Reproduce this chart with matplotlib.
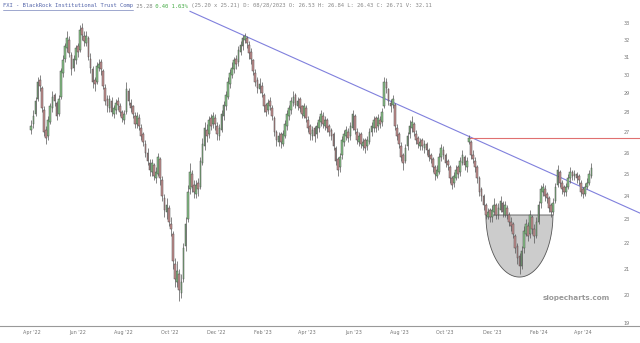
import matplotlib.pyplot as plt
import matplotlib.dates as mdates
from matplotlib.ticker import NullLocator
from matplotlib.lines import Line2D
from matplotlib.patches import Polygon
import numpy as np
import pandas as pd

# candles, one per two trading days
closes = [
    27.3, 27.8, 28.6, 29.6, 29.4, 28.2, 27.0, 26.7, 27.6, 28.3,
    28.8, 28.6, 27.8, 28.7, 30.2, 30.8, 31.6, 32.1, 31.2, 30.3,
    30.9, 31.5, 31.3, 32.6, 32.3, 31.9, 32.2, 31.0, 30.4, 29.6,
    29.5, 30.5, 30.6, 30.3, 29.4, 28.6, 28.3, 28.7, 28.0, 28.2,
    28.5, 28.4, 28.0, 27.7, 27.9, 29.2, 28.6, 28.2, 27.9, 27.4,
    27.8, 27.3, 26.8, 26.5, 26.0, 25.6, 25.2, 25.5, 24.9, 25.1,
    25.8, 24.8, 24.0, 23.4, 23.6, 22.9, 22.6, 21.3, 20.6, 20.9,
    20.2, 20.5, 21.8, 22.8, 24.2, 25.1, 24.4, 24.2, 24.5, 24.3,
    25.6, 26.4, 27.2, 26.8, 27.6, 27.3, 27.8, 27.4, 26.9, 27.2,
    27.9, 28.4, 28.9, 29.6, 30.1, 30.4, 30.8, 30.6, 31.4, 31.7,
    32.1, 32.2, 31.8, 31.2, 30.9, 30.2, 29.6, 29.3, 29.5, 29.0,
    28.3, 28.0, 28.5, 28.3, 27.8, 27.0, 26.6, 26.8, 26.5, 26.9,
    27.4, 27.9, 28.2, 28.6, 28.8, 28.4, 28.6, 28.2, 27.9, 28.3,
    27.7, 27.2, 26.9, 27.1, 26.8, 27.3, 27.6, 27.9, 27.4, 27.6,
    27.2, 27.0, 26.8, 26.3, 25.6, 25.2, 25.8, 26.6, 26.9, 27.1,
    26.7, 27.3, 27.9, 27.1, 26.6, 26.8, 26.4, 26.5, 26.2, 26.6,
    27.0, 27.3, 27.6, 27.2, 27.7, 27.4, 28.0, 29.6, 29.3, 28.6,
    28.3, 28.7, 27.3, 26.8, 26.4, 25.8, 25.5, 26.2, 26.8, 27.3,
    27.5, 27.0, 26.6, 26.4, 26.5, 26.3, 26.4, 26.1, 25.8, 25.7,
    25.3, 25.0, 25.2, 25.8, 26.2, 25.9, 25.5, 25.4, 24.8, 24.5,
    24.9, 25.2, 25.0, 25.6, 25.9, 25.4, 25.6, 26.71, 25.9, 25.7,
    25.3, 24.8, 24.2, 24.0, 23.6, 23.2, 23.3, 23.1, 23.4, 23.6,
    23.2, 23.5, 23.8, 23.3, 23.6, 23.2, 22.9, 22.7, 22.4, 21.8,
    21.4, 21.1, 21.7, 22.5, 22.8, 22.3, 23.2, 22.6, 22.3, 22.9,
    23.6, 24.3, 24.4, 24.0, 23.9, 23.5, 23.3, 23.7, 24.4, 25.2,
    24.6, 24.3, 24.2, 24.4, 24.8, 25.1, 24.9, 25.0, 24.8, 24.7,
    24.2, 24.1, 24.4, 24.6, 25.0, 25.28,
]
opens = [
    27.1, 27.4, 27.9, 28.7, 29.7, 29.3, 28.1, 27.1, 26.8, 27.5,
    28.2, 28.9, 28.5, 27.9, 28.8, 30.1, 30.9, 31.5, 32.0, 31.1,
    30.4, 30.8, 31.6, 31.4, 32.7, 32.2, 31.8, 32.1, 30.9, 30.3,
    29.7, 29.6, 30.4, 30.7, 30.2, 29.3, 28.7, 28.2, 28.6, 27.9,
    28.1, 28.6, 28.3, 28.0, 27.6, 28.0, 29.1, 28.5, 28.3, 27.8,
    27.4, 27.7, 27.2, 26.9, 26.4, 26.0, 25.5, 25.1, 25.4, 24.8,
    25.0, 25.7, 24.7, 23.9, 23.3, 23.5, 22.8, 22.4, 21.2, 20.5,
    20.8, 20.1, 20.6, 21.9, 23.0, 24.3, 25.0, 24.5, 24.1, 24.6,
    24.4, 25.5, 26.3, 27.1, 26.9, 27.7, 27.4, 27.7, 27.3, 26.8,
    27.1, 27.8, 28.3, 28.8, 29.5, 30.0, 30.3, 30.9, 30.7, 31.3,
    31.6, 32.0, 32.1, 31.7, 31.3, 30.8, 30.1, 29.7, 29.2, 29.4,
    28.9, 28.4, 28.1, 28.6, 28.2, 27.7, 27.0, 26.5, 26.9, 26.4,
    26.8, 27.3, 27.8, 28.1, 28.5, 28.9, 28.3, 28.7, 28.3, 27.8,
    28.2, 27.6, 27.3, 26.8, 27.2, 26.9, 27.2, 27.5, 27.8, 27.3,
    27.6, 27.3, 27.1, 26.9, 26.2, 25.7, 25.3, 25.9, 26.5, 26.8,
    27.0, 26.8, 27.2, 27.8, 27.0, 26.5, 26.9, 26.3, 26.6, 26.3,
    26.5, 27.0, 27.2, 27.7, 27.3, 27.6, 27.5, 28.3, 29.6, 29.2,
    28.5, 28.4, 28.4, 27.2, 26.9, 26.3, 25.9, 25.6, 26.3, 26.9,
    27.2, 27.4, 26.9, 26.7, 26.3, 26.6, 26.2, 26.4, 26.1, 25.9,
    25.7, 25.3, 24.9, 25.1, 25.8, 26.1, 25.9, 25.6, 25.3, 24.8,
    24.6, 24.8, 25.3, 25.1, 25.5, 25.8, 25.3, 26.53, 26.5, 25.9,
    25.6, 25.3, 24.8, 24.3, 24.0, 23.6, 23.1, 23.4, 23.1, 23.3,
    23.6, 23.2, 23.4, 23.7, 23.2, 23.5, 23.2, 22.9, 22.8, 22.3,
    21.9, 21.5, 21.1, 21.8, 22.4, 22.7, 22.4, 23.1, 22.6, 22.3,
    22.9, 23.7, 24.2, 24.3, 24.1, 23.9, 23.6, 23.3, 23.8, 24.5,
    25.1, 24.6, 24.4, 24.2, 24.4, 24.8, 25.1, 24.9, 25.0, 24.9,
    24.6, 24.3, 24.1, 24.4, 24.6, 24.9,
]
highs = [
    27.6, 28.1, 28.8, 29.9, 30.0, 29.4, 28.3, 27.3, 27.8, 28.5,
    29.1, 29.0, 28.6, 28.9, 30.4, 31.1, 31.8, 32.5, 32.2, 31.3,
    31.1, 31.7, 31.8, 32.9, 33.0, 32.5, 32.5, 32.2, 31.2, 30.5,
    29.9, 30.7, 30.9, 30.9, 30.3, 29.5, 28.9, 28.9, 28.8, 28.4,
    28.7, 28.8, 28.5, 28.1, 28.1, 29.6, 29.3, 28.7, 28.4, 28.0,
    28.0, 27.9, 27.4, 27.0, 26.6, 26.2, 25.7, 25.7, 25.5, 25.3,
    26.0, 25.8, 24.9, 24.1, 23.9, 23.6, 23.1, 22.5, 21.4, 21.3,
    21.0, 20.8, 22.0, 23.1, 24.5, 25.5, 25.2, 24.7, 24.7, 24.8,
    25.8, 26.7, 27.5, 27.4, 27.8, 27.9, 28.0, 27.9, 27.5, 27.4,
    28.1, 28.6, 29.1, 29.9, 30.3, 30.7, 31.0, 31.1, 31.6, 31.9,
    32.3, 32.4, 32.2, 31.9, 31.5, 30.9, 30.3, 29.9, 29.8, 29.6,
    29.0, 28.5, 28.7, 28.8, 28.4, 27.8, 27.1, 27.0, 27.0, 27.1,
    27.6, 28.1, 28.4, 28.8, 29.1, 29.0, 28.8, 28.8, 28.4, 28.5,
    28.4, 27.8, 27.4, 27.3, 27.3, 27.5, 27.8, 28.1, 28.0, 27.8,
    27.7, 27.4, 27.2, 27.0, 26.3, 25.8, 26.0, 26.8, 27.1, 27.3,
    27.2, 27.5, 28.1, 27.9, 27.2, 27.0, 27.0, 26.7, 26.7, 26.8,
    27.2, 27.5, 27.8, 27.8, 27.9, 27.8, 28.2, 29.9, 29.8, 29.3,
    28.7, 28.9, 28.5, 27.4, 27.0, 26.5, 26.0, 26.4, 27.0, 27.6,
    27.8, 27.5, 27.1, 26.8, 26.7, 26.7, 26.6, 26.5, 26.2, 26.0,
    25.8, 25.4, 25.4, 26.0, 26.4, 26.3, 26.0, 25.7, 25.4, 24.9,
    25.1, 25.4, 25.4, 25.8, 26.1, 25.9, 25.8, 26.84, 26.6, 26.1,
    25.8, 25.4, 24.9, 24.4, 24.1, 23.7, 23.5, 23.5, 23.6, 23.9,
    23.7, 23.7, 24.0, 23.8, 23.8, 23.6, 23.3, 23.1, 22.9, 22.4,
    22.0, 21.6, 21.9, 22.7, 23.0, 22.9, 23.4, 23.2, 22.8, 23.1,
    23.8, 24.5, 24.6, 24.5, 24.2, 24.0, 23.7, 23.9, 24.6, 25.4,
    25.2, 24.7, 24.5, 24.6, 25.0, 25.3, 25.2, 25.2, 25.1, 25.0,
    24.7, 24.4, 24.6, 24.8, 25.2, 25.5,
]
lows = [
    26.9, 27.2, 27.8, 28.6, 29.1, 28.0, 26.8, 26.4, 26.6, 27.4,
    28.0, 28.3, 27.6, 27.8, 28.7, 29.9, 30.7, 31.3, 31.0, 30.0,
    30.2, 30.6, 31.0, 31.3, 32.0, 31.6, 31.6, 30.8, 30.1, 29.3,
    29.1, 29.5, 30.2, 30.0, 29.2, 28.4, 28.0, 28.0, 27.8, 27.7,
    27.9, 28.1, 27.8, 27.5, 27.4, 27.9, 28.4, 28.0, 27.7, 27.2,
    27.2, 27.1, 26.6, 26.3, 25.8, 25.4, 24.9, 24.9, 24.7, 24.6,
    24.9, 24.5, 23.8, 23.1, 23.0, 22.7, 22.3, 21.0, 20.3, 20.3,
    19.8, 19.9, 20.5, 21.7, 22.9, 24.1, 24.2, 23.9, 23.9, 24.0,
    24.3, 25.4, 26.1, 26.5, 26.7, 27.1, 27.2, 27.1, 26.6, 26.6,
    27.0, 27.6, 28.1, 28.7, 29.3, 29.8, 30.1, 30.3, 30.5, 31.1,
    31.4, 31.8, 31.5, 30.9, 30.6, 30.0, 29.4, 29.0, 29.0, 28.8,
    28.0, 27.8, 27.9, 28.1, 27.6, 26.8, 26.3, 26.3, 26.2, 26.3,
    26.7, 27.1, 27.6, 27.9, 28.3, 28.2, 28.1, 28.0, 27.7, 27.7,
    27.5, 27.0, 26.6, 26.6, 26.5, 26.7, 27.0, 27.3, 27.2, 27.1,
    27.0, 26.8, 26.6, 26.1, 25.4, 24.9, 25.1, 25.7, 26.3, 26.6,
    26.5, 26.6, 27.1, 26.9, 26.4, 26.3, 26.2, 26.1, 26.0, 26.1,
    26.4, 26.8, 27.0, 27.0, 27.1, 27.2, 27.3, 28.2, 29.0, 28.4,
    28.0, 28.2, 27.1, 26.6, 26.2, 25.6, 25.2, 25.5, 26.1, 26.7,
    27.0, 26.8, 26.4, 26.2, 26.1, 26.1, 26.0, 25.9, 25.6, 25.5,
    25.1, 24.7, 24.8, 25.0, 25.6, 25.7, 25.3, 25.2, 24.6, 24.3,
    24.4, 24.7, 24.8, 24.9, 25.4, 25.2, 25.1, 26.43, 25.7, 25.5,
    25.1, 24.6, 24.0, 23.8, 23.4, 23.0, 23.0, 22.9, 22.9, 23.2,
    23.0, 23.0, 23.3, 23.1, 23.1, 23.0, 22.7, 22.5, 22.2, 21.6,
    21.2, 20.8, 21.0, 21.6, 22.3, 22.1, 22.2, 22.4, 22.0, 22.2,
    22.8, 23.5, 24.0, 23.8, 23.7, 23.3, 23.1, 23.2, 23.7, 24.4,
    24.4, 24.1, 24.0, 24.0, 24.3, 24.6, 24.7, 24.7, 24.6, 24.5,
    24.0, 23.9, 24.0, 24.3, 24.5, 24.8,
]

tick_labels = ["Apr '22", "Jun '22", "Aug '22", "Oct '22", "Dec '22", "Feb '23", "Apr '23",
               "Jun '23", "Aug '23", "Oct '23", "Dec '23", "Feb '24", "Apr '24"]
price_ticks = [19, 20, 21, 22, 23, 24, 25, 26, 27, 28, 29, 30, 31, 32, 33]

# drawn lines (candle index, price)
trend_x = [75.1, 288.0]
trend_y = [33.71, 23.26]
level_x = [206.6, 288.0]
level_y = [26.71, 26.71]
# cup: left/right candle index, top/bottom price
cup_x = [215.1, 246.8]
cup_y = [23.18, 20.68]

header_parts = [
    ("FXI - BlackRock Institutional Trust Comp", "#5566aa"),
    (" 25.28", "#888888"),
    (" 0.40 1.63%", "#44aa44"),
    (" (25.20 x 25.21) D: 08/28/2023 O: 26.53 H: 26.84 L: 26.43 C: 26.71 V: 32.11", "#888888"),
]

dates = pd.bdate_range("2022-03-31", periods=len(closes), freq="2B")
idx = np.arange(len(closes))
o = np.array(opens)
c = np.array(closes)
h = np.array(highs)
l = np.array(lows)

fig = plt.figure(figsize=(6.4, 3.43), dpi=100)
ax = fig.add_axes([0, 17 / 343, 1, 326 / 343])
ax.set_yscale("log")
ax.set_xlim(-14.8, 288)
ax.set_ylim(18.9, 34.42)

up = c >= o
body_lo = np.minimum(o, c)
body_h = np.maximum(np.abs(c - o), 0.02)
ax.vlines(idx, l, h, color="#555555", lw=0.5, zorder=3)
ax.bar(idx[up], body_h[up], bottom=body_lo[up], width=0.8,
       color="#86c486", edgecolor="#4a4a4a", lw=0.35, zorder=4)
ax.bar(idx[~up], body_h[~up], bottom=body_lo[~up], width=0.8,
       color="#c79090", edgecolor="#4a4a4a", lw=0.35, zorder=4)

ax.plot(trend_x, trend_y, color="#8080dd", lw=0.8, zorder=2)
ax.plot(level_x, level_y, color="#e07070", lw=0.8, zorder=2)

# half-ellipse cup, drawn in axes space so it looks round on screen
to_ax = ax.transData + ax.transAxes.inverted()
(xl, yt), (xr, yb) = to_ax.transform([(cup_x[0], cup_y[0]), (cup_x[1], cup_y[1])])
t = np.linspace(0, np.pi, 80)
xs = (xl + xr) / 2 + (xr - xl) / 2 * np.cos(t)
ys = yt - (yt - yb) * np.sin(t)
cup = Polygon(np.column_stack([xs, ys]), closed=True, transform=ax.transAxes,
              facecolor="#cccccc", edgecolor="#555555", lw=0.6, zorder=1)
ax.add_patch(cup)

ax.set_yticks(price_ticks)
ax.set_yticklabels([str(v) for v in price_ticks])
ax.yaxis.set_minor_locator(NullLocator())
ax.yaxis.tick_right()
ax.tick_params(axis="y", length=0, pad=-12, labelsize=3.5, labelcolor="#777777")

tick_pos = np.interp(mdates.date2num(pd.date_range("2022-04-01", periods=len(tick_labels), freq="2MS")),
                     mdates.date2num(dates), idx)
ax.set_xticks(tick_pos)
ax.set_xticklabels(tick_labels)
ax.tick_params(axis="x", length=0, pad=3, labelsize=3.5, labelcolor="#777777")

for s in ["top", "left", "right"]:
    ax.spines[s].set_visible(False)
ax.spines["bottom"].set_color("#999999")
ax.spines["bottom"].set_linewidth(0.8)

ax.text(0.9, 0.086, "slopecharts.com", transform=ax.transAxes, ha="center", va="center",
        fontsize=5.2, fontweight="bold", color="#999999")

# header line, pieces placed one after another
renderer = fig.canvas.get_renderer()
x0 = 3
for i, (txt, col) in enumerate(header_parts):
    tt = fig.text(x0 / 640, 1 - 6 / 343, txt, family="DejaVu Sans Mono", fontsize=4,
                  color=col, va="center", ha="left")
    bb = tt.get_window_extent(renderer)
    if i == 0:
        fig.add_artist(Line2D([bb.x0 / 640, bb.x1 / 640], [1 - 9.5 / 343] * 2,
                              color=col, lw=0.4, transform=fig.transFigure))
    x0 = bb.x1

fig.savefig("out.png", dpi=100)
